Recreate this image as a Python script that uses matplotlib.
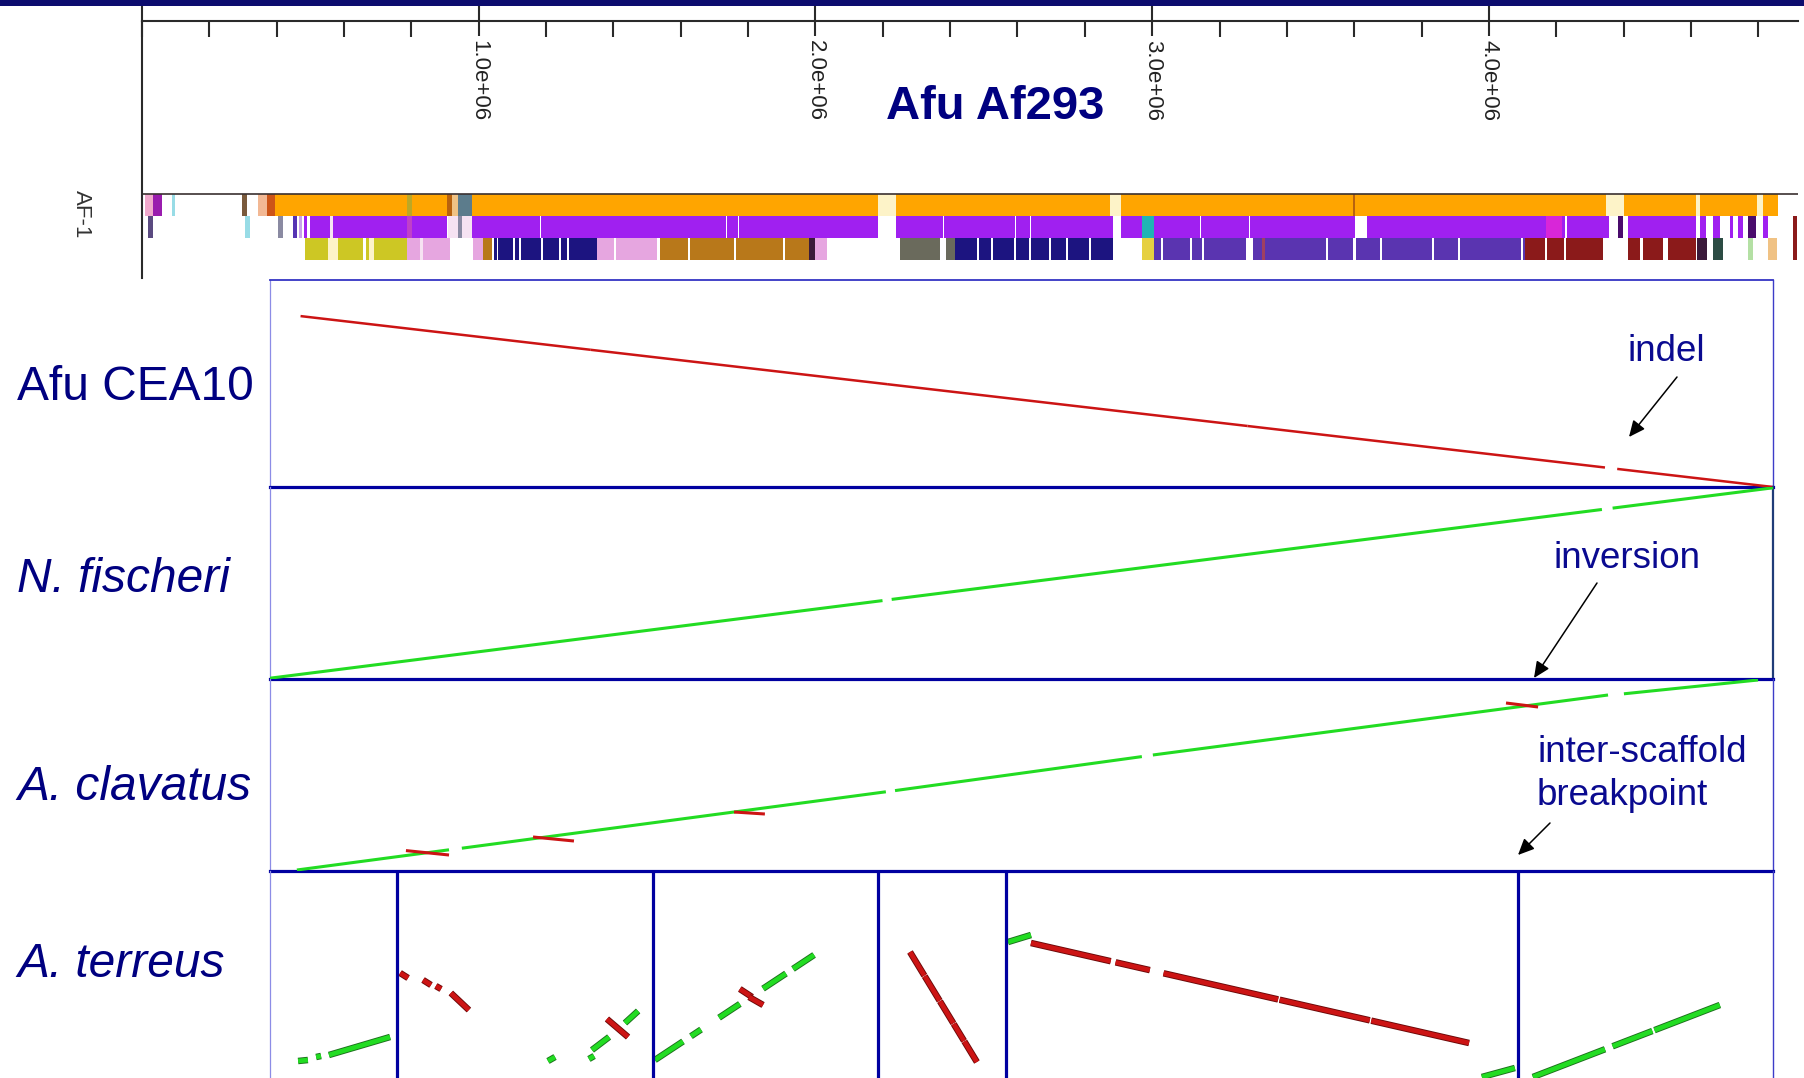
import matplotlib
matplotlib.use("Agg")
import matplotlib.pyplot as plt
import matplotlib.patheffects as pe
from matplotlib.patches import Rectangle
from matplotlib.ticker import FixedLocator, MultipleLocator, FuncFormatter

# ------------------------------------------------------------------ data
# Reference chromosome AF-1 of A. fumigatus Af293 (positions in Mb)
chrom_len = 4.918
ruler_major = [1.0, 2.0, 3.0, 4.0]
ruler_minor_step = 0.2
track_label = "AF-1"
title = "Afu Af293"

# Best-hit scaffold colour tracks along AF-1: (start, end, scaffold colour)
track_row1 = [
    (0.009, 0.033, "pink"), (0.033, 0.059, "violet"), (0.089, 0.098, "cyan"),
    (0.297, 0.312, "umber"), (0.345, 0.371, "peach"), (0.371, 0.395, "rust"),
    (0.395, 0.787, "orange"), (0.787, 0.802, "olive"), (0.802, 0.906, "orange"),
    (0.906, 0.921, "amber"), (0.921, 0.938, "apricot"), (0.938, 0.980, "slate"),
    (0.980, 2.186, "orange"), (2.186, 2.239, "cream"), (2.239, 2.875, "orange"),
    (2.875, 2.908, "cream"), (2.908, 3.597, "orange"), (3.597, 3.603, "amber"),
    (3.603, 4.348, "orange"), (4.348, 4.402, "cream"), (4.402, 4.615, "orange"),
    (4.615, 4.627, "cream"), (4.627, 4.796, "orange"), (4.796, 4.814, "cream"),
    (4.814, 4.859, "orange"),
]
track_row2 = [
    (0.018, 0.033, "grape"), (0.306, 0.321, "cyan"), (0.404, 0.419, "grey"),
    (0.448, 0.460, "blueviolet"), (0.466, 0.475, "lilac"), (0.481, 0.490, "purple"),
    (0.499, 0.558, "purple"), (0.558, 0.567, "pale"), (0.567, 0.787, "purple"),
    (0.787, 0.802, "orchid"), (0.802, 0.906, "purple"), (0.909, 0.938, "pale"),
    (0.938, 0.950, "grey"), (0.950, 0.980, "pale"),
    (0.980, 1.182, "purple"), (1.185, 1.734, "purple"), (1.737, 1.770, "purple"),
    (1.773, 2.186, "purple"), (2.239, 2.379, "purple"), (2.382, 2.593, "purple"),
    (2.596, 2.637, "purple"), (2.640, 2.884, "purple"), (2.908, 2.970, "purple"),
    (2.970, 3.006, "teal"), (3.006, 3.142, "purple"), (3.145, 3.288, "purple"),
    (3.291, 3.603, "purple"), (3.638, 4.170, "purple"), (4.170, 4.217, "magenta"),
    (4.217, 4.226, "purple"), (4.232, 4.357, "purple"), (4.384, 4.399, "plumdark"),
    (4.413, 4.615, "purple"), (4.627, 4.645, "purple"), (4.666, 4.687, "purple"),
    (4.716, 4.725, "purple"), (4.740, 4.755, "purple"), (4.770, 4.794, "plumdark"),
    (4.814, 4.829, "purple"), (4.903, 4.915, "firebrick"),
]
track_row3 = [
    (0.484, 0.552, "yellow"), (0.552, 0.582, "cream"), (0.582, 0.656, "yellow"),
    (0.665, 0.674, "yellow"), (0.674, 0.689, "cream"), (0.689, 0.787, "yellow"),
    (0.787, 0.826, "plum"), (0.826, 0.835, "pale"), (0.835, 0.915, "plum"),
    (0.983, 1.013, "plum"), (1.013, 1.040, "gold"),
    (1.045, 1.054, "navy"), (1.057, 1.102, "navy"), (1.108, 1.120, "navy"),
    (1.126, 1.185, "navy"), (1.191, 1.238, "navy"), (1.244, 1.262, "navy"),
    (1.268, 1.351, "navy"), (1.351, 1.402, "plum"), (1.408, 1.530, "plum"),
    (1.538, 1.622, "gold"), (1.628, 1.758, "gold"), (1.764, 1.904, "gold"),
    (1.910, 1.981, "gold"), (1.981, 1.999, "dusk"), (1.999, 2.034, "plum"),
    (2.251, 2.370, "stone"), (2.388, 2.415, "stone"), (2.415, 2.480, "navy"),
    (2.486, 2.522, "navy"), (2.528, 2.590, "navy"), (2.596, 2.634, "navy"),
    (2.640, 2.694, "navy"), (2.700, 2.744, "navy"), (2.750, 2.813, "navy"),
    (2.819, 2.884, "navy"), (2.970, 3.006, "lemon"),
    (3.006, 3.026, "indigo"), (3.032, 3.113, "indigo"), (3.119, 3.148, "indigo"),
    (3.154, 3.279, "indigo"), (3.300, 3.326, "indigo"), (3.326, 3.335, "wine"),
    (3.335, 3.516, "indigo"), (3.522, 3.597, "indigo"), (3.606, 3.677, "indigo"),
    (3.683, 3.831, "indigo"), (3.837, 3.908, "indigo"), (3.914, 4.096, "indigo"),
    (4.102, 4.108, "indigo"), (4.108, 4.167, "firebrick"), (4.173, 4.223, "firebrick"),
    (4.229, 4.339, "firebrick"), (4.413, 4.449, "firebrick"), (4.458, 4.518, "firebrick"),
    (4.532, 4.615, "firebrick"), (4.618, 4.648, "dusk"), (4.666, 4.695, "deepteal"),
    (4.770, 4.785, "mint"), (4.829, 4.856, "apricot"), (4.903, 4.915, "firebrick"),
]

# Alignment blocks against AF-1: (ref start, ref end, query start, query end) in Mb.
# Query end < query start marks a reverse-strand match.
species = ["Afu CEA10", "N. fischeri", "A. clavatus", "A. terreus"]
species_italic = [False, True, True, True]

cea10_blocks = [
    (0.10, 1.05, 4.830, 3.877), (1.05, 2.02, 3.877, 2.906), (2.02, 3.20, 2.906, 1.724),
    (3.20, 4.37, 1.724, 0.551), (4.41, 4.92, 0.511, 0.000),
]
nfis_blocks = [
    (0.000, 2.005, 0.02, 1.960), (2.035, 4.360, 1.99, 4.238), (4.395, 4.920, 4.272, 4.780),
]
acla_blocks = [
    (0.088, 0.586, 0.025, 0.53), (0.628, 2.016, 0.57, 1.98), (2.046, 2.854, 2.01, 2.86),
    (2.890, 4.380, 2.90, 4.40), (4.432, 4.871, 4.43, 4.775),
    (0.445, 0.586, 0.51, 0.40), (0.861, 0.995, 0.85, 0.75),
    (1.519, 1.620, 1.475, 1.425), (4.046, 4.151, 4.20, 4.10),
]
# A. terreus: six scaffolds, boundaries along AF-1
ater_breaks = [0.416, 1.254, 1.990, 2.409, 4.085]
ater_blocks = [
    (0.092, 0.124, 0.425, 0.450), (0.151, 0.167, 0.525, 0.550), (0.193, 0.393, 0.575, 1.025),
    (0.426, 0.452, 2.625, 2.500), (0.501, 0.527, 2.450, 2.325), (0.543, 0.560, 2.300, 2.225),
    (0.592, 0.651, 2.125, 1.700), (0.910, 0.933, 0.425, 0.525), (1.044, 1.061, 0.475, 0.550),
    (1.054, 1.110, 0.700, 1.025), (1.103, 1.172, 1.475, 1.025), (1.162, 1.205, 1.375, 1.675),
    (1.260, 1.352, 0.450, 0.914), (1.378, 1.411, 1.045, 1.211), (1.470, 1.538, 1.508, 1.851),
    (1.614, 1.689, 2.234, 2.612), (1.712, 1.781, 2.728, 3.076),
    (1.538, 1.578, 2.225, 2.025), (1.568, 1.614, 2.025, 1.825),
    (2.095, 2.142, 3.150, 2.560), (2.143, 2.192, 2.547, 1.932), (2.193, 2.237, 1.919, 1.367),
    (2.238, 2.272, 1.354, 0.927), (2.273, 2.314, 0.915, 0.400),
    (2.416, 2.491, 3.400, 3.575), (2.491, 2.752, 3.375, 2.920), (2.768, 2.880, 2.892, 2.697),
    (2.925, 3.300, 2.618, 1.965), (3.305, 3.600, 1.956, 1.442), (3.605, 3.925, 1.433, 0.875),
    (3.967, 4.075, 0.025, 0.250),
    (4.134, 4.370, 0.025, 0.719), (4.395, 4.525, 0.793, 1.175), (4.532, 4.746, 1.196, 1.825),
]
panel_ylims = [5.85, 4.80, 4.80, 5.175]

# ------------------------------------------------------------------ style
PALETTE = {
    "orange": "#ffa500", "purple": "#a020f0", "pink": "#f0a8cc", "plum": "#e6a6e0",
    "pale": "#f6e2f2", "cream": "#fdf3c8", "cyan": "#98dce6", "teal": "#20b4b4",
    "slate": "#5c7c8c", "umber": "#7a5a3c", "peach": "#f2b894", "rust": "#cc5418",
    "olive": "#bca826", "amber": "#b8620e", "violet": "#9a1cae", "grape": "#5a4a80",
    "blueviolet": "#5634b4", "lilac": "#c8a2ea", "orchid": "#c040c8", "magenta": "#d826d8",
    "grey": "#8a8aa2", "yellow": "#cdc724", "navy": "#1c1480", "gold": "#b8781a",
    "dusk": "#3a1a3a", "stone": "#6a6a5c", "indigo": "#5a34b0", "wine": "#a04060",
    "firebrick": "#8b1a1a", "deepteal": "#2c4c44", "mint": "#b4e0a4", "apricot": "#f0c284",
    "plumdark": "#4a0c6c", "lemon": "#e6d040",
}
INK = "#2a2a2a"
NAVY_TEXT = "#000080"
NOTE_TEXT = "#0a0a90"
FRAME = "#0000a0"
FWD = "#22dc22"
REV = "#cc1414"
SANS = ["Liberation Sans", "DejaVu Sans"]
NARROW = ["Liberation Sans Narrow", "Liberation Sans", "DejaVu Sans"]

W, H = 1804, 1078
fig = plt.figure(figsize=(W / 100, H / 100), dpi=100)
fig.patch.set_facecolor("white")


def rect(x0, y0, x1, y1):
    """Pixel box (top-left origin) to a figure-fraction axes rectangle."""
    return [x0 / W, 1 - y1 / H, (x1 - x0) / W, (y1 - y0) / H]


# slide header band
fig.add_artist(Rectangle((0, 1 - 6 / H), 1, 6 / H, transform=fig.transFigure,
                         facecolor="#0c0c6e", edgecolor="none"))

# ------------------------------------------------------------------ ruler
ax_r = fig.add_axes(rect(142, 7, 1798, 21))
ax_r.set_xlim(0, chrom_len)
ax_r.set_ylim(0, 1)
ax_r.set_facecolor("none")
for s in ("top", "right"):
    ax_r.spines[s].set_visible(False)
for s in ("left", "bottom"):
    ax_r.spines[s].set_color(INK)
    ax_r.spines[s].set_linewidth(1.5)
ax_r.set_yticks([])
ax_r.xaxis.set_major_locator(FixedLocator(ruler_major))
ax_r.xaxis.set_minor_locator(MultipleLocator(ruler_minor_step))
ax_r.xaxis.set_major_formatter(FuncFormatter(lambda v, _: f"{v * 1e6:.1e}"))
ax_r.tick_params(axis="x", which="major", direction="inout", length=21, width=1.5,
                 color=INK, pad=3, labelsize=16, labelcolor="#222222", labelrotation=-90)
ax_r.tick_params(axis="x", which="minor", direction="out", length=11.5, width=1.5, color=INK)
for lbl in ax_r.get_xticklabels():
    lbl.set_fontfamily(NARROW)

# ------------------------------------------------------------------ colour tracks
ax_t = fig.add_axes(rect(142, 21, 1798, 278))
ax_t.set_xlim(0, chrom_len)
ax_t.set_ylim(3.32, -8.36)
ax_t.set_facecolor("none")
for s in ("top", "right", "bottom"):
    ax_t.spines[s].set_visible(False)
ax_t.spines["left"].set_color(INK)
ax_t.spines["left"].set_linewidth(1.5)
ax_t.set_xticks([])
for r, row in enumerate([track_row1, track_row2, track_row3]):
    ax_t.barh([r] * len(row), [e - s for s, e, _ in row], left=[s for s, _, _ in row],
              height=1.0, color=[PALETTE[c] for _, _, c in row], linewidth=0)
ax_t.axhline(-0.5, color="#3a3030", lw=1.2)
ax_t.set_yticks([0.41])
ax_t.set_yticklabels([track_label], rotation=-90, fontsize=16, color="#333333",
                     family=NARROW, va="center")
ax_t.tick_params(axis="y", length=0, pad=36)

fig.text(995 / W, 1 - 107 / H, title, ha="center", va="center", fontsize=34,
         fontweight="bold", color=NAVY_TEXT, family=SANS)

# ------------------------------------------------------------------ dot-plot panels
panel_px = [(280, 487), (487, 679), (679, 871), (871, 1078)]
axes = []
for (y0, y1), ytop in zip(panel_px, panel_ylims):
    ax = fig.add_axes(rect(270, y0, 1773, y1))
    ax.set_xlim(0, 4.92)
    ax.set_ylim(0, ytop)
    ax.set_xticks([])
    ax.set_yticks([])
    ax.set_facecolor("none")
    ax.spines["left"].set_color("#8c8ce6")
    ax.spines["left"].set_linewidth(0.9)
    ax.spines["right"].set_color("#3c3cc8")
    ax.spines["right"].set_linewidth(1.0)
    ax.spines["top"].set_visible(False)
    ax.spines["bottom"].set_color(FRAME)
    ax.spines["bottom"].set_linewidth(2.3)
    axes.append(ax)
axes[0].spines["top"].set_visible(True)
axes[0].spines["top"].set_color("#3434c4")
axes[0].spines["top"].set_linewidth(1.3)
axes[1].spines["right"].set_color("#203c78")
axes[1].spines["right"].set_linewidth(1.6)
axes[3].spines["bottom"].set_visible(False)


def draw_blocks(ax, blocks, lw, outline=False):
    for rs, re_, qs, qe in blocks:
        fwd = qe >= qs
        effects = None
        if outline:
            dark = "#1c6e1c" if fwd else "#6a0808"
            effects = [pe.Stroke(linewidth=lw + 1.3, foreground=dark), pe.Normal()]
        ax.plot([rs, re_], [qs, qe], color=FWD if fwd else REV, lw=lw,
                solid_capstyle="butt", path_effects=effects, zorder=3)


draw_blocks(axes[0], cea10_blocks, 1.8)
draw_blocks(axes[1], nfis_blocks, 2.2)
draw_blocks(axes[2], acla_blocks, 2.2)
draw_blocks(axes[3], ater_blocks, 3.4, outline=True)
for b in ater_breaks:
    axes[3].axvline(b, color=FRAME, lw=2.3, zorder=4)

# species labels
baselines = [400, 592, 800, 977]
for name, ital, yb in zip(species, species_italic, baselines):
    fig.text(17 / W, 1 - yb / H, name, ha="left", va="baseline", fontsize=34.5,
             style="italic" if ital else "normal", color=NAVY_TEXT, family=SANS)

# annotations
notes = [("indel", 1628, 361), ("inversion", 1553, 568),
         ("inter-scaffold", 1537, 762), ("breakpoint", 1537, 805)]
for txt, x, yb in notes:
    fig.text(x / W, 1 - yb / H, txt, ha="left", va="baseline", fontsize=26.5,
             color=NOTE_TEXT, family=SANS)

arrows = [((1677, 377), (1629, 437)), ((1597, 583), (1534, 678)), ((1550, 823), (1518, 855))]
for (tx, ty), (hx, hy) in arrows:
    axes[0].annotate("", xy=(hx, H - hy), xytext=(tx, H - ty),
                     xycoords="figure pixels", textcoords="figure pixels",
                     arrowprops=dict(arrowstyle="-|>,head_length=0.7,head_width=0.32",
                                     mutation_scale=14, color="black", lw=1.1,
                                     shrinkA=0, shrinkB=0),
                     annotation_clip=False)

fig.savefig("out.png", dpi=100, facecolor="white")
